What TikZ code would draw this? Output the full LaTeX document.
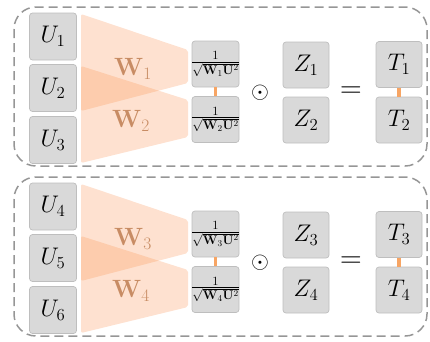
\RequirePackage{fix-cm}
\documentclass[tikz,border=0pt]{standalone}
\usepackage{amsmath}
\definecolor{cellfill}{RGB}{217,217,217}
\definecolor{celldraw}{RGB}{190,190,190}
\definecolor{trap}{RGB}{250,145,80}
\definecolor{wlab}{RGB}{200,140,100}
\definecolor{linkc}{RGB}{247,165,100}
\definecolor{dashc}{RGB}{150,150,150}
\tikzset{
  cell/.style={draw=celldraw, fill=cellfill, rounded corners=3pt, line width=0.7pt,
    minimum width=47pt, minimum height=47pt, inner sep=0pt, font=\fontsize{24}{26}\selectfont},
  rcell/.style={cell, minimum width=46pt, minimum height=46pt},
  fcell/.style={rcell, minimum width=47pt, font=\fontsize{18}{20}\selectfont},
  trapez/.style={fill=trap, fill opacity=0.27, rounded corners=2pt},
  wlabel/.style={text=wlab, font=\fontsize{25}{28}\selectfont},
  link/.style={draw=linkc, line width=3.5pt},
  group/.style={draw=dashc, line width=1.5pt, dash pattern=on 9pt off 5pt, rounded corners=22pt},
  opnode/.style={font=\fontsize{23}{26}\selectfont, inner sep=0pt}
}
\newcommand{\fracbox}[1]{\makebox[0pt][c]{$\frac{1}{\sqrt{\mathbf{W}_{#1}\mathbf{U}^2}}$}}
\begin{document}
\begin{tikzpicture}[x=1pt,y=-1pt]
\useasboundingbox (0,0) rectangle (430,341);
\foreach \g/\dy/\a/\b/\c/\wa/\wb in {0/0/1/2/3/1/2, 1/170/4/5/6/3/4}{
  \begin{scope}[yshift=-\dy pt]
  \draw[group] (14,7) rectangle (427,166);
  % trapezoids
  \fill[trapez] (81,14) -- (188,50) -- (188,83) -- (81,111) -- cycle;
  \fill[trapez] (81,66) -- (188,100) -- (188,137) -- (81,163) -- cycle;
  \node[wlabel] (W\wa) at (133,69) {$\mathbf{W}_{\wa}$};
  \node[wlabel] (W\wb) at (131,121) {$\mathbf{W}_{\wb}$};
  % U cells
  \node[cell] (U\a) at (53,36.5) {$U_{\a}$};
  \node[cell] (U\b) at (53,88) {$U_{\b}$};
  \node[cell] (U\c) at (53,140) {$U_{\c}$};
  % fraction cells
  \node[fcell] (F\wa) at (215.5,64) {\fracbox{\wa}};
  \node[fcell] (F\wb) at (215.5,119.5) {\fracbox{\wb}};
  \draw[link] (F\wa.south) -- (F\wb.north);
  \node[opnode] (O\g) at (260,92.5) {$\odot$};
  % Z cells
  \node[rcell] (Z\wa) at (306,65) {$Z_{\wa}$};
  \node[rcell] (Z\wb) at (306,120) {$Z_{\wb}$};
  \node[opnode, font=\fontsize{30}{32}\selectfont] (E\g) at (351,92.5) {$=$};
  % T cells
  \node[rcell] (T\wa) at (399,64.5) {$T_{\wa}$};
  \node[rcell] (T\wb) at (399,120) {$T_{\wb}$};
  \draw[link] (T\wa.south) -- (T\wb.north);
  \end{scope}
}
\end{tikzpicture}
\end{document}
